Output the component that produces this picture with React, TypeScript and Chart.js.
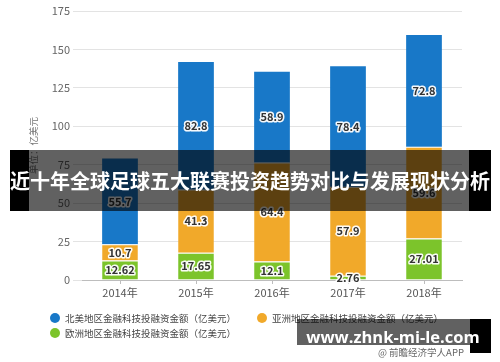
import React, { useEffect, useRef } from "react";
import { Chart, registerables } from "chart.js";

Chart.register(...registerables);

const categories = ["2014年", "2015年", "2016年", "2017年", "2018年"];
const europe = [12.62, 17.65, 12.1, 2.76, 27.01];
const asia = [10.7, 41.3, 64.4, 57.9, 59.6];
const northAmerica = [55.7, 82.8, 58.9, 78.4, 72.8];
const seriesNames = [
  "北美地区金融科技投融资金额（亿美元）",
  "亚洲地区金融科技投融资金额（亿美元）",
  "欧洲地区金融科技投融资金额（亿美元）",
];
const yTicks = [0, 25, 50, 75, 100, 125, 150, 175];
const yTitle = "单位：亿美元";
const bannerText = "近十年全球足球五大联赛投资趋势对比与发展现状分析";
const siteText = "www.zhnk-mi-le.com";
const sourceText = "@ 前瞻经济学人APP";

const BLUE = "#1878c8";
const ORANGE = "#f1a92a";
const GREEN = "#7cc42b";
const FONT = "'Noto Sans CJK SC', 'Noto Sans', sans-serif";

const labelPlugin = {
  id: "segLabels",
  afterDatasetsDraw(chart: any) {
    const ctx = chart.ctx;
    ctx.save();
    ctx.font = `bold 11px ${FONT}`;
    ctx.textAlign = "center";
    ctx.textBaseline = "middle";
    ctx.lineJoin = "round";
    chart.data.datasets.forEach((ds: any, i: number) => {
      const meta = chart.getDatasetMeta(i);
      meta.data.forEach((el: any, j: number) => {
        const v = ds.data[j];
        const y = (el.y + el.base) / 2;
        ctx.strokeStyle = "rgba(255,255,255,0.95)";
        ctx.lineWidth = 3;
        ctx.strokeText(String(v), el.x, y);
        ctx.fillStyle = "#333";
        ctx.fillText(String(v), el.x, y);
      });
    });
    ctx.restore();
  },
};

export default function App() {
  const ref = useRef<HTMLCanvasElement | null>(null);
  useEffect(() => {
    if (!ref.current) return;
    const chart = new Chart(ref.current, {
      type: "bar",
      data: {
        labels: categories,
        datasets: [
          { label: seriesNames[2], data: europe, backgroundColor: GREEN, borderColor: "#fff", borderWidth: { top: 1 } as any },
          { label: seriesNames[1], data: asia, backgroundColor: ORANGE, borderColor: "#fff", borderWidth: { top: 1 } as any },
          { label: seriesNames[0], data: northAmerica, backgroundColor: BLUE, borderColor: "#fff", borderWidth: { top: 0 } as any },
        ],
      },
      options: {
        responsive: false,
        animation: false,
        layout: { padding: { left: 20, right: 38, top: 11, bottom: 60 } },
        datasets: { bar: { categoryPercentage: 1, barPercentage: 0.47 } },
        plugins: { legend: { display: false }, tooltip: { enabled: false } },
        scales: {
          x: {
            stacked: true,
            grid: { display: true, drawOnChartArea: false, drawTicks: true, tickLength: 4, offset: false, color: "#bdbdbd" },
            border: { display: true, color: "#bdbdbd" },
            ticks: { color: "#555", font: { size: 11, family: FONT }, padding: 2 },
            afterFit: (s: any) => { s.height = 22; },
          },
          y: {
            stacked: true,
            min: 0,
            max: 175,
            afterBuildTicks: (s: any) => { s.ticks = yTicks.map((v) => ({ value: v })); },
            grid: { color: "#e3e3e3", tickLength: 9, drawTicks: true },
            border: { display: false },
            ticks: { color: "#666", font: { size: 11, family: FONT }, padding: 3 },
            title: { display: true, text: yTitle, color: "#777", font: { size: 9.5, family: FONT }, padding: { top: 8, bottom: 0 } },
            afterFit: (s: any) => { s.width = 62; },
          },
        },
      },
      plugins: [labelPlugin],
    });
    return () => chart.destroy();
  }, []);

  const legendItem = (color: string, text: string, x: number, y: number) => (
    <div style={{ position: "absolute", left: x - 5, top: y - 6, height: 12, display: "flex", alignItems: "center", whiteSpace: "nowrap" }}>
      <span style={{ width: 10, height: 10, borderRadius: 5, background: color, display: "inline-block" }} />
      <span style={{ marginLeft: 5, fontSize: 9.5, color: "#444", fontFamily: FONT, lineHeight: "12px" }}>{text}</span>
    </div>
  );

  return (
    <div style={{ position: "fixed", left: 0, top: 0, width: 500, height: 362, background: "#fff", overflow: "hidden" }}>
      <canvas ref={ref} width={500} height={362} style={{ position: "absolute", left: 0, top: 0, width: 500, height: 362 }} />
      {legendItem(BLUE, seriesNames[0], 55, 318)}
      {legendItem(ORANGE, seriesNames[1], 262, 318)}
      {legendItem(GREEN, seriesNames[2], 55, 333)}
      <div style={{ position: "absolute", left: 378, top: 346, fontSize: 9.5, color: "#666", fontFamily: FONT, lineHeight: "12px", whiteSpace: "nowrap" }}>{sourceText}</div>
      {/* banner */}
      <div style={{ position: "absolute", left: 10, top: 150, width: 19, height: 61, background: "#000" }} />
      <div style={{ position: "absolute", left: 29, top: 150, width: 440, height: 61, background: "rgba(0,0,0,0.62)" }} />
      <div style={{ position: "absolute", left: 469, top: 150, width: 22, height: 61, background: "#000" }} />
      <div style={{ position: "absolute", left: 0, top: 150, width: 500, height: 61, display: "flex", alignItems: "center", justifyContent: "center", color: "#fff", fontFamily: FONT, fontWeight: 700, fontSize: 20, whiteSpace: "nowrap" }}>{bannerText}</div>
      {/* site watermark */}
      <div style={{ position: "absolute", left: 297, top: 319, width: 173, height: 26, background: "rgba(0,0,0,0.62)" }} />
      <div style={{ position: "absolute", left: 470, top: 319, width: 21, height: 34, background: "#000" }} />
      <div style={{ position: "absolute", left: 300, top: 319, width: 186, height: 34, display: "flex", alignItems: "center", justifyContent: "center", color: "#fff", fontFamily: "'Open Sans', 'DejaVu Sans', sans-serif", fontWeight: 700, fontSize: 16.5, whiteSpace: "nowrap" }}>{siteText}</div>
    </div>
  );
}
